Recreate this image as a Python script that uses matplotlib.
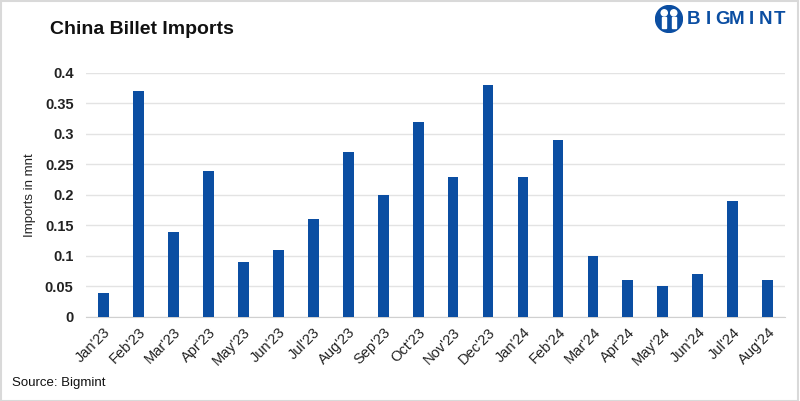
import matplotlib.pyplot as plt
from matplotlib.patches import Circle, Rectangle

plt.rcParams['font.family'] = ['Liberation Sans', 'DejaVu Sans']

months = ["Jan'23", "Feb'23", "Mar'23", "Apr'23", "May'23", "Jun'23", "Jul'23",
          "Aug'23", "Sep'23", "Oct'23", "Nov'23", "Dec'23", "Jan'24", "Feb'24",
          "Mar'24", "Apr'24", "May'24", "Jun'24", "Jul'24", "Aug'24"]
imports = [0.04, 0.37, 0.14, 0.24, 0.09, 0.11, 0.16, 0.27, 0.20, 0.32,
           0.23, 0.38, 0.23, 0.29, 0.10, 0.06, 0.05, 0.07, 0.19, 0.06]
yticks = [0, 0.05, 0.1, 0.15, 0.2, 0.25, 0.3, 0.35, 0.4]
ytick_labels = ["0", "0.05", "0.1", "0.15", "0.2", "0.25", "0.3", "0.35", "0.4"]

blue = "#0B4EA2"

fig = plt.figure(figsize=(8, 4.01), dpi=100)
fig.patch.set_facecolor("white")

# light frame around the whole image
fig.add_artist(Rectangle((0.001, 0.001), 0.997, 0.996, transform=fig.transFigure,
                         fill=False, edgecolor="#d9d9d9", linewidth=1.5))

ax = fig.add_axes([0.1075, 0.2095, 0.874, 0.6085])
x = range(len(months))
ax.bar(x, imports, width=0.31, color=blue, zorder=3)

ax.set_xlim(-0.5, len(months) - 0.5)
ax.set_ylim(0, 0.4)
ax.set_yticks(yticks)
ax.set_yticklabels(ytick_labels, fontsize=10.5, fontweight="bold", color="#222222")
ax.set_xticks(list(x))
ax.set_xticklabels(months, rotation=45, ha="right", rotation_mode="anchor",
                   fontsize=10.5, color="#222222")
ax.tick_params(axis="both", length=0)
ax.tick_params(axis="y", pad=9)
ax.tick_params(axis="x", pad=6)
ax.grid(axis="y", color="#e3e3e3", linewidth=1, zorder=0)
for side in ["top", "right", "left"]:
    ax.spines[side].set_visible(False)
ax.spines["bottom"].set_color("#d0d0d0")
ax.set_ylabel("Imports in mnt", fontsize=9.5, color="#222222")
ax.yaxis.set_label_coords(-(86 - 36) / 699, 0.5)

fig.text(50 / 800, 1 - 29 / 401, "China Billet Imports", fontsize=14,
         fontweight="bold", color="#111111", va="center")
fig.text(12 / 800, 1 - 383 / 401, "Source: Bigmint", fontsize=9.5,
         color="#111111", va="center")

# logo
for i, ch in enumerate("BIGMINT"):
    fig.text((694 + i * 14.3) / 800, 1 - 19 / 401, ch, fontsize=13.5,
             fontweight="bold", color=blue, va="center", ha="center")
logo_ax = fig.add_axes([655 / 800, 1 - 33 / 401, 28 / 800, 28 / 401])
logo_ax.set_xlim(0, 1)
logo_ax.set_ylim(0, 1)
logo_ax.set_aspect("equal")
logo_ax.axis("off")
logo_ax.add_patch(Circle((0.5, 0.5), 0.48, color=blue))
logo_ax.add_patch(Circle((0.33, 0.72), 0.11, color="white"))
logo_ax.add_patch(Circle((0.67, 0.72), 0.11, color="white"))
logo_ax.add_patch(Rectangle((0.26, 0.18), 0.13, 0.4, color="white"))
logo_ax.add_patch(Rectangle((0.61, 0.18), 0.13, 0.4, color="white"))

fig.savefig("out.png", dpi=100)
